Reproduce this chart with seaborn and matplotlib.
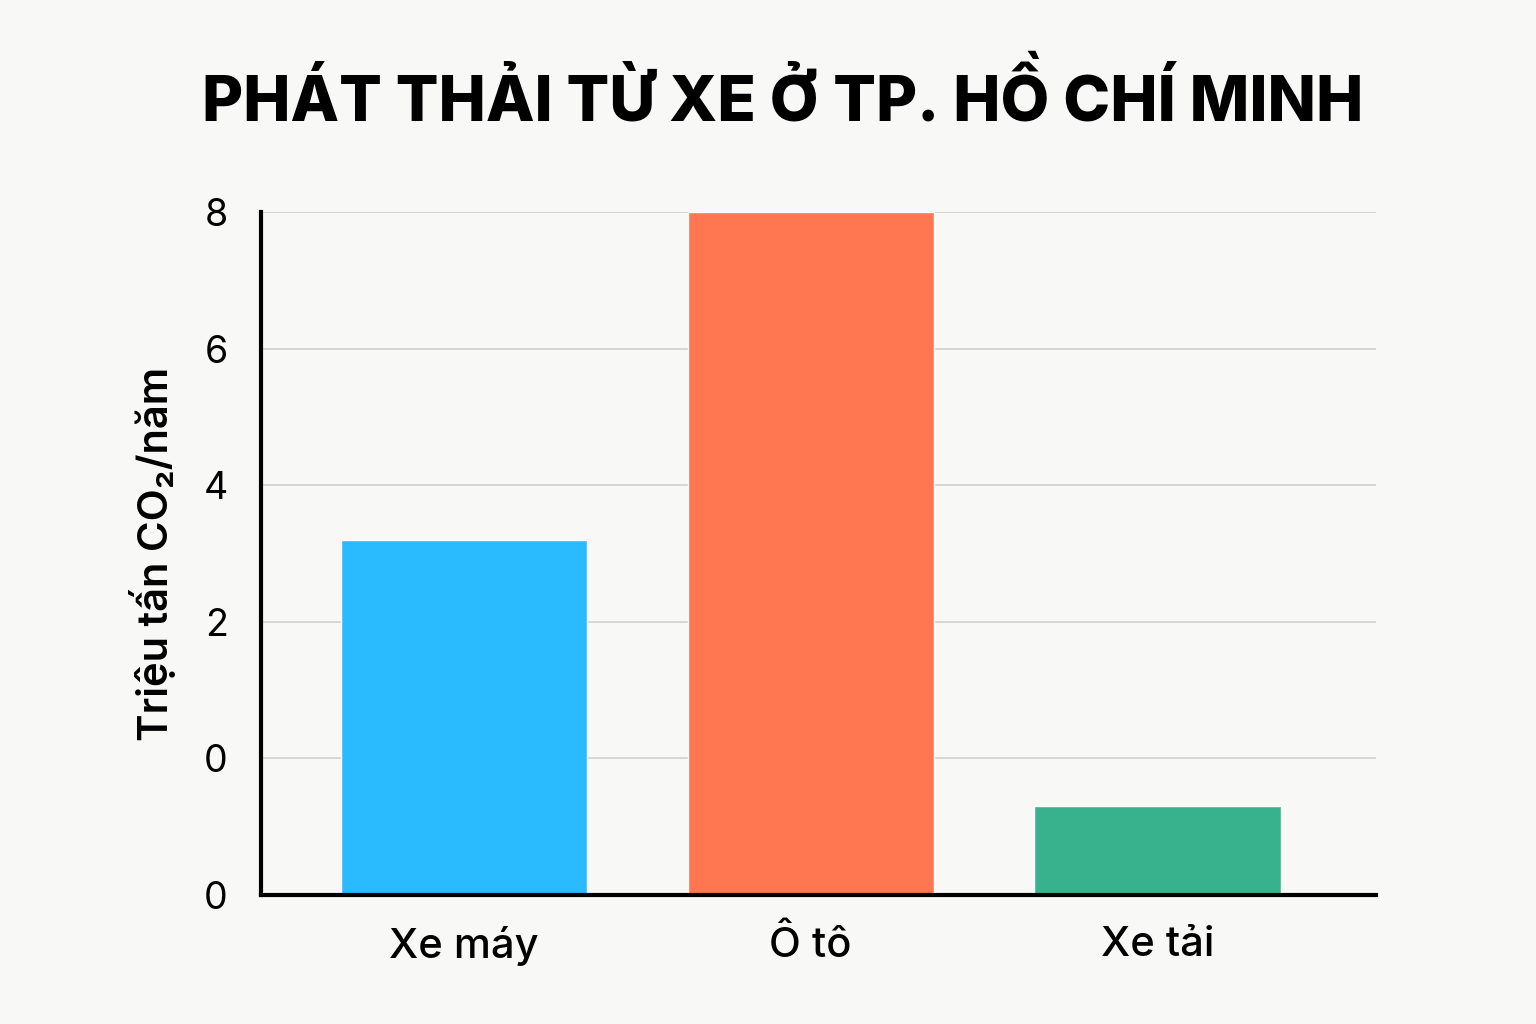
import matplotlib
matplotlib.use("Agg")
import matplotlib.pyplot as plt
import pandas as pd
import seaborn as sns

# data (axis runs 0..10, labels as printed)
categories = ["Xe máy", "Ô tô", "Xe tải"]
emissions = [5.2, 10.0, 1.3]
bar_colors = ["#2ABBFF", "#FF7750", "#38B28C"]
tick_values = [0, 2, 4, 6, 8, 10]
tick_labels = ["0", "0", "2", "4", "6", "8"]

TITLE = "PHÁT THẢI TỪ XE Ở TP. HỒ CHÍ MINH"
YLABEL = "Triệu tấn CO₂/năm"
BG = "#F8F9F7"


def main():
    sns.set_theme(style="white")
    plt.rcParams["font.family"] = ["Inter", "Roboto", "DejaVu Sans"]

    df = pd.DataFrame({"category": categories, "value": emissions})

    fig = plt.figure(figsize=(15.36, 10.24), dpi=100, facecolor=BG)
    ax = fig.add_axes([261 / 1536, 1 - 895 / 1024, (1376 - 261) / 1536, (895 - 212) / 1024])
    ax.set_facecolor(BG)

    sns.barplot(data=df, x="category", y="value", hue="category",
                palette=bar_colors, legend=False, width=0.71, saturation=1,
                ax=ax, zorder=2)

    ax.set_xlim(-0.585, 2.63)
    ax.set_ylim(0, 10)
    ax.set_yticks(tick_values)
    ax.set_yticklabels(tick_labels)
    ax.yaxis.grid(True, color="#CFCFCF", linewidth=1.2, zorder=0)
    ax.set_axisbelow(True)

    for side in ["top", "right"]:
        ax.spines[side].set_visible(False)
    for side in ["left", "bottom"]:
        ax.spines[side].set_color("black")
        ax.spines[side].set_linewidth(3)
        ax.spines[side].set_zorder(3)

    ax.tick_params(axis="y", length=0, pad=24, labelsize=27, labelcolor="black")
    ax.tick_params(axis="x", length=0, pad=22, labelsize=30, labelcolor="black")
    for lbl in ax.get_xticklabels():
        lbl.set_fontweight("medium")
    ax.set_xlabel("")
    ax.set_ylabel(YLABEL, fontsize=30, fontweight="semibold", color="black", labelpad=20)

    fig.text(783 / 1536, 1 - 98 / 1024, TITLE, ha="center", va="center",
             fontsize=45.5, fontweight="heavy", color="black")

    fig.savefig("out.png", dpi=100, facecolor=BG)
    plt.close(fig)


if __name__ == "__main__":
    main()
